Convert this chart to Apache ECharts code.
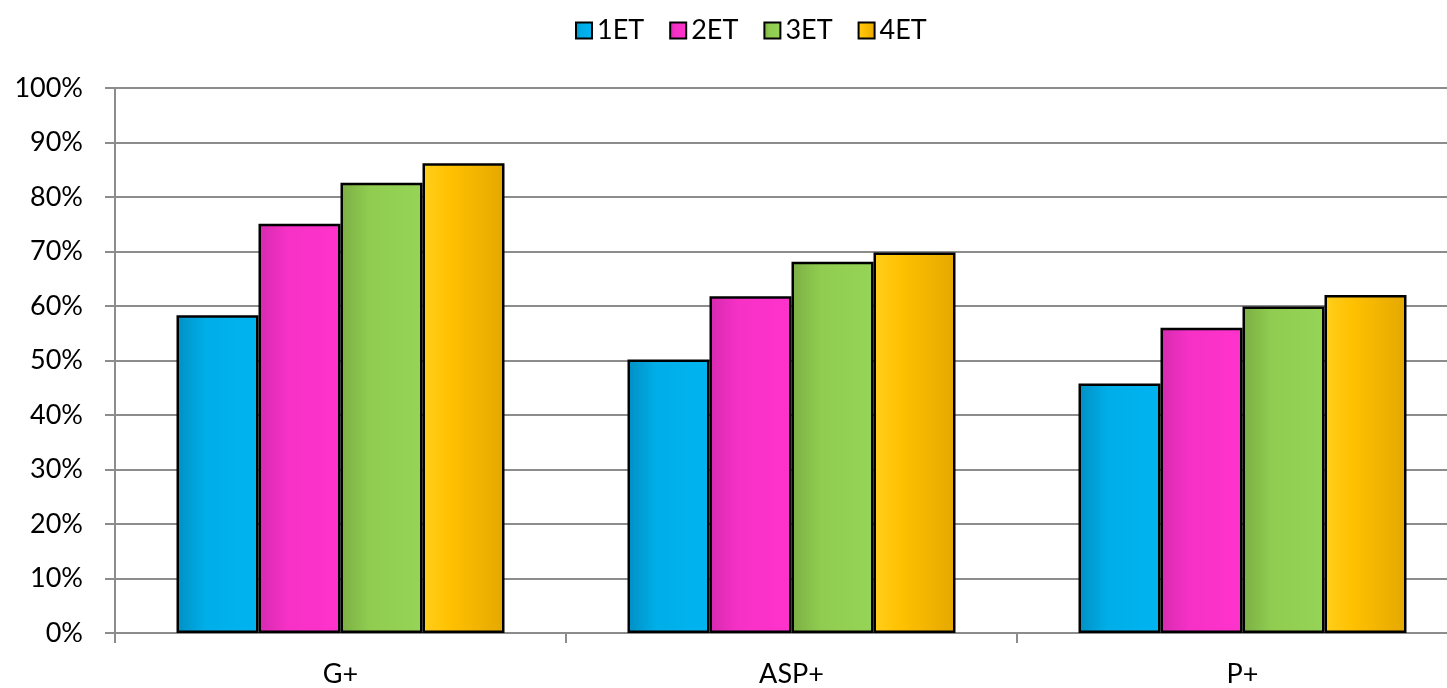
<!DOCTYPE html>
<html>
<head>
<meta charset="utf-8">
<script src="https://cdn.jsdelivr.net/npm/echarts@6/dist/echarts.min.js"></script>
<style>html,body{margin:0;padding:0;background:#fff;overflow:hidden;width:1447px;height:688px}#c{width:1470px;height:688px}</style>
</head>
<body>
<div id="c"></div>
<script>
const categories = ['G+', 'ASP+', 'P+'];
const seriesNames = ['1ET', '2ET', '3ET', '4ET'];
const s1ET = [58.3, 50.2, 45.8];
const s2ET = [75.1, 61.8, 56.0];
const s3ET = [82.6, 68.1, 59.9];
const s4ET = [86.2, 69.8, 62.0];
const yTicks = [0, 10, 20, 30, 40, 50, 60, 70, 80, 90, 100];

const palettes = [
  ['#0090c4', '#00aee8', '#00b4f0'],
  ['#d62ab0', '#f631c6', '#ff33cc'],
  ['#7cae44', '#8fcc50', '#96d458'],
  ['#ffcf1c', '#ffc000', '#e4a800']
];
function grad(p) {
  return new echarts.graphic.LinearGradient(0, 0, 1, 0, [
    {offset: 0, color: p[0]}, {offset: 0.35, color: p[1]}, {offset: 1, color: p[2]}
  ]);
}
const allData = [s1ET, s2ET, s3ET, s4ET];
const chart = echarts.init(document.getElementById('c'));
const font = 'Lato, "Open Sans", "Liberation Sans", sans-serif';
chart.setOption({
  animation: false,
  textStyle: {fontFamily: font},
  legend: {
    top: 12, left: 570,
    itemWidth: 16, itemHeight: 16, itemGap: 25,
    textStyle: {fontSize: 27, color: '#000', fontFamily: font},
    data: seriesNames.map(n => ({name: n, icon: 'rect', itemStyle: {borderColor: '#000', borderWidth: 2}}))
  },
  grid: {left: 115, right: 2, top: 88, bottom: 54, containLabel: false},
  xAxis: {
    type: 'category', data: categories,
    axisLine: {lineStyle: {color: '#8c8c8c', width: 2}},
    axisTick: {show: true, length: 10, lineStyle: {color: '#8c8c8c', width: 2}},
    axisLabel: {fontSize: 27, color: '#000', margin: 28, fontFamily: font}
  },
  yAxis: {
    type: 'value', min: 0, max: 100, interval: 10,
    axisLine: {show: true, lineStyle: {color: '#8c8c8c', width: 2}},
    axisTick: {show: true, length: 10, lineStyle: {color: '#8c8c8c', width: 2}},
    splitLine: {lineStyle: {color: '#8c8c8c', width: 2}},
    axisLabel: {fontSize: 27, color: '#000', margin: 32, fontFamily: font,
      formatter: v => yTicks.includes(v) ? v + '%' : ''}
  },
  series: seriesNames.map((n, i) => ({
    name: n, type: 'bar', data: allData[i],
    barWidth: 82, barGap: '0%',
    itemStyle: {color: grad(palettes[i]), borderColor: '#000', borderWidth: 2.5}
  }))
});
</script>
</body>
</html>
